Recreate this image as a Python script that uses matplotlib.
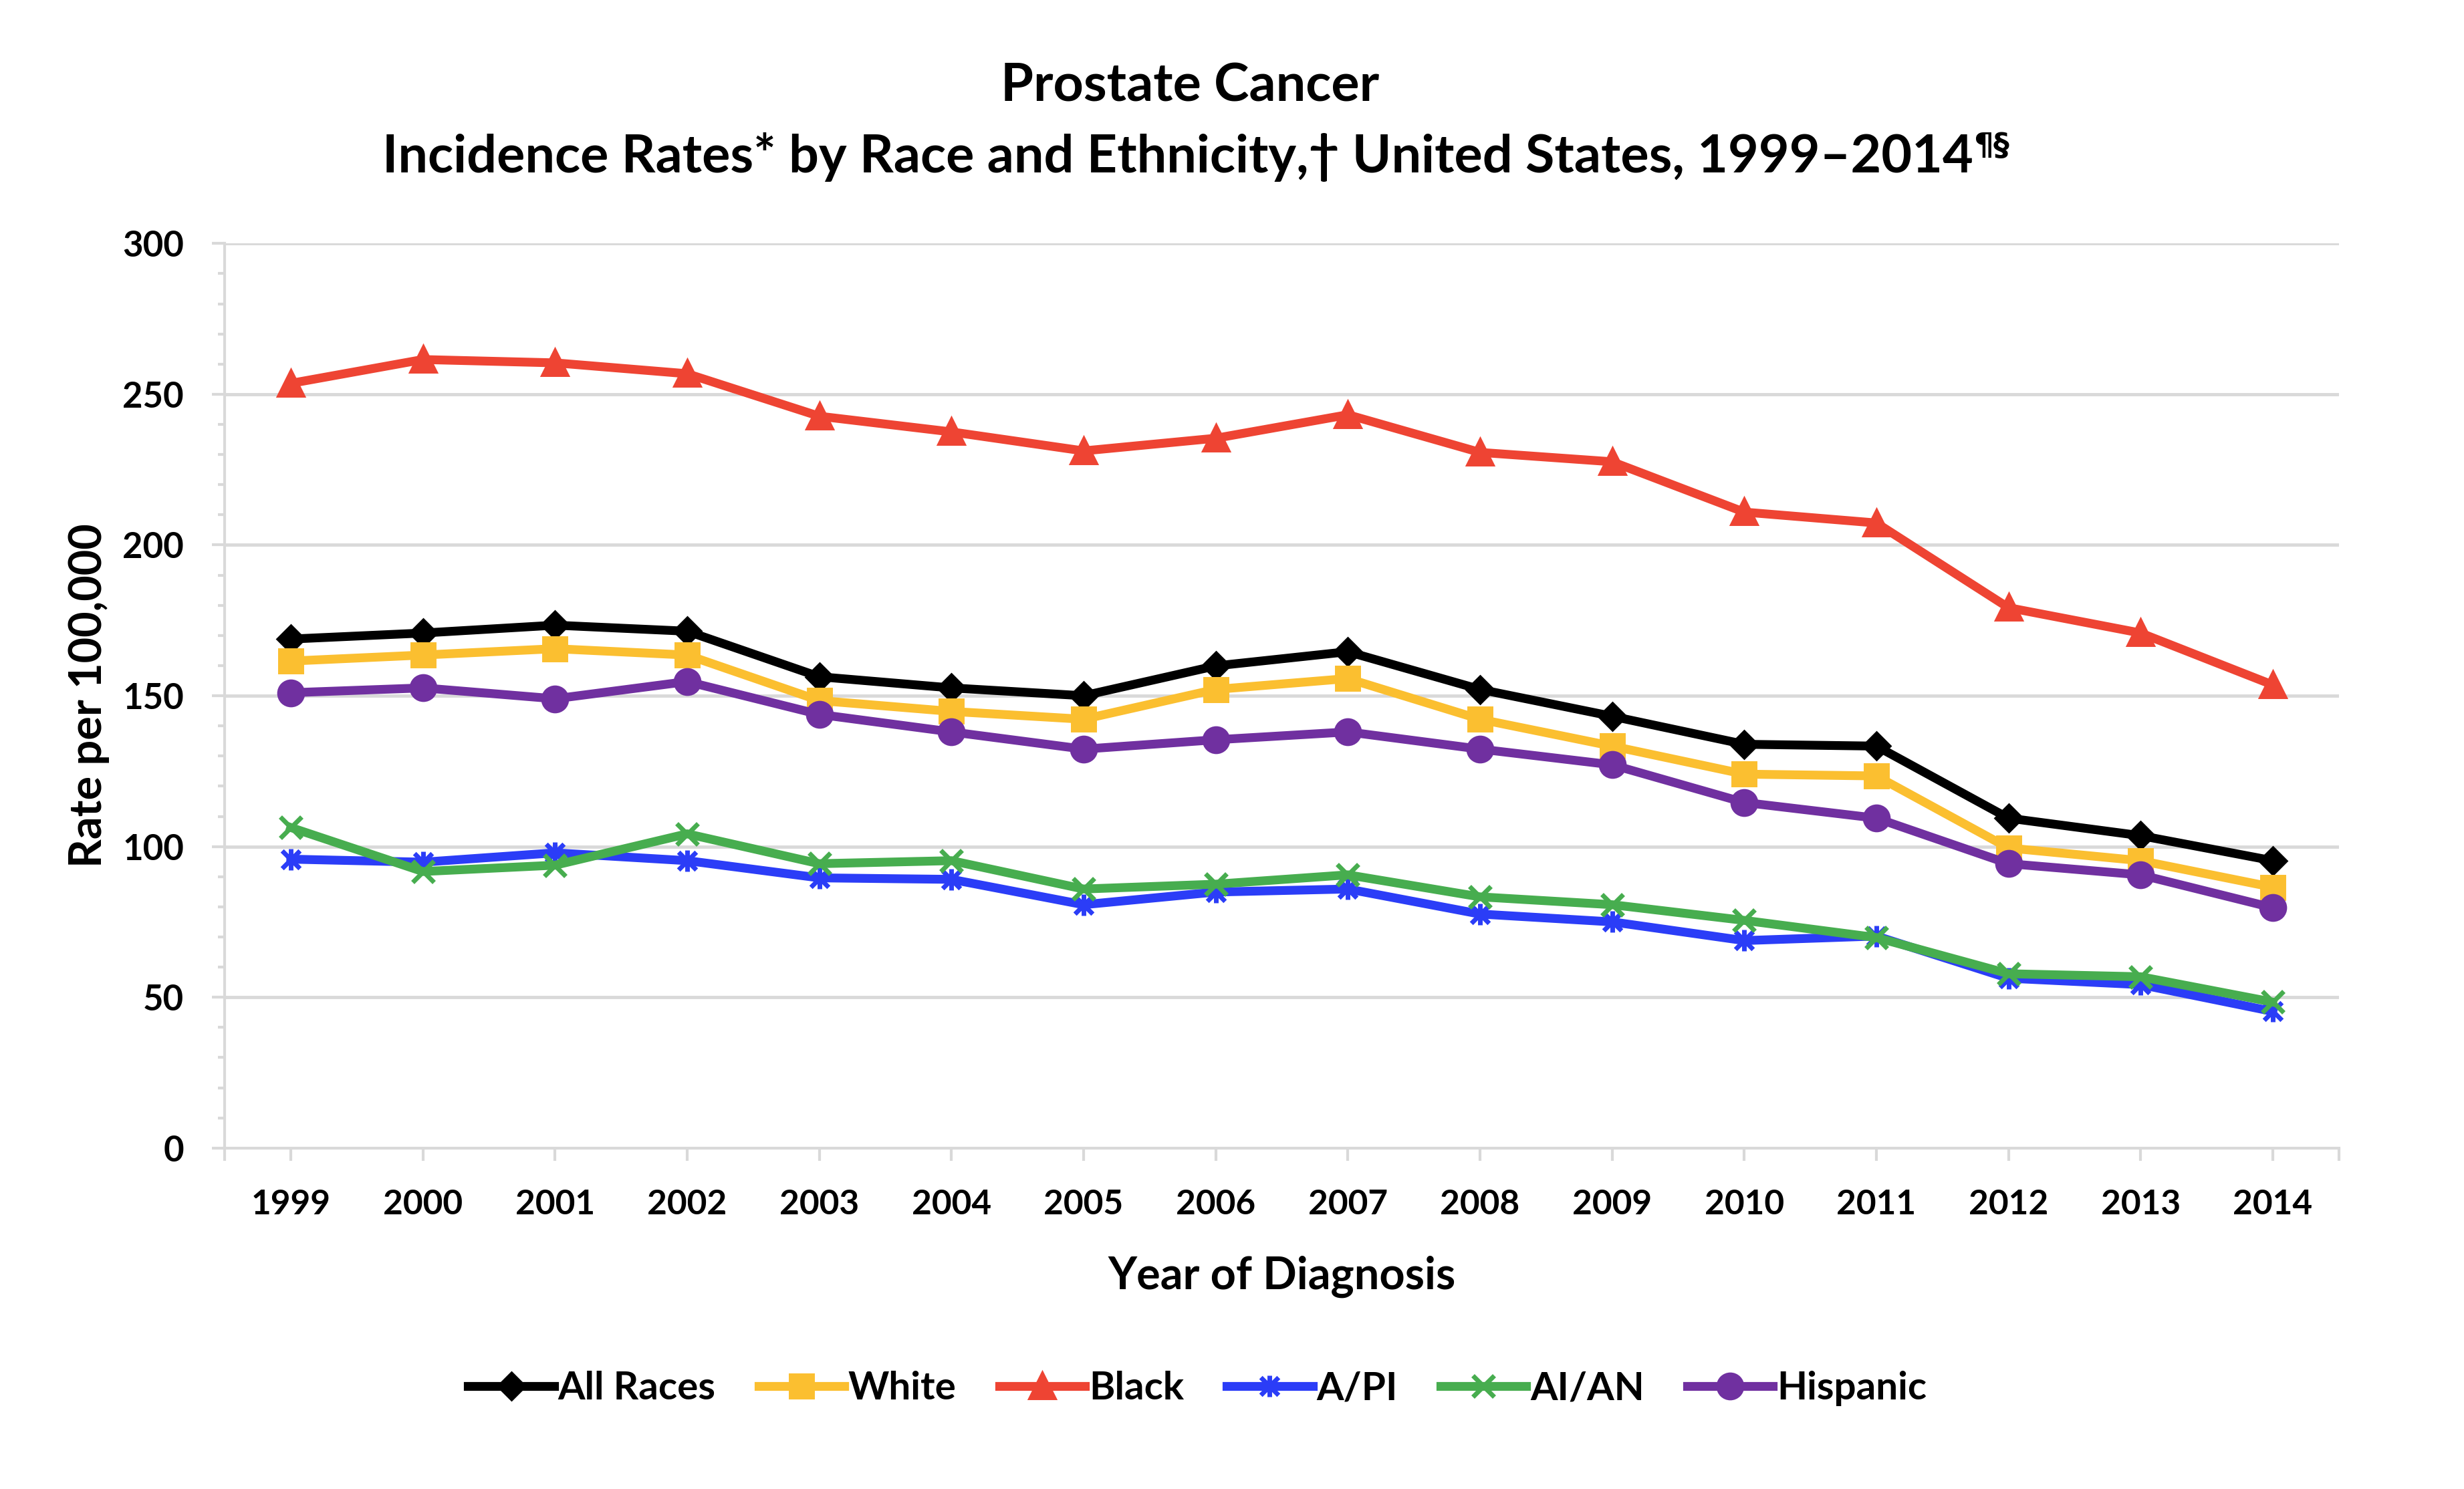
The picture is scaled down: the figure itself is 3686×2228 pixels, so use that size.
import matplotlib
matplotlib.use("Agg")
import matplotlib.pyplot as plt
import matplotlib.path as mpath
import numpy as np

plt.rcParams["font.family"] = ["Lato", "DejaVu Sans"]
plt.rcParams["font.weight"] = "bold"

# data
years = ["1999", "2000", "2001", "2002", "2003", "2004", "2005", "2006",
         "2007", "2008", "2009", "2010", "2011", "2012", "2013", "2014"]
all_races = [168.8, 170.8, 173.4, 171.4, 156.3, 152.6, 150.0, 159.9,
             164.6, 152.1, 143.2, 133.9, 133.3, 109.4, 103.6, 95.3]
white = [161.5, 163.5, 165.6, 163.5, 148.4, 144.8, 142.2, 152.1,
         155.7, 142.2, 133.3, 124.0, 123.4, 99.5, 95.3, 86.5]
black = [253.6, 261.5, 260.4, 256.8, 242.7, 237.5, 231.2, 235.4,
         243.2, 230.7, 227.6, 210.9, 207.3, 179.2, 170.8, 153.6]
api = [95.8, 94.8, 97.9, 95.3, 89.6, 89.1, 80.7, 84.9,
       85.9, 77.6, 75.0, 68.8, 70.3, 56.3, 54.2, 45.3]
aian = [106.3, 91.7, 93.8, 104.2, 94.3, 95.3, 85.9, 87.5,
        90.6, 83.3, 80.7, 75.5, 69.8, 57.8, 56.8, 48.4]
hispanic = [151.0, 152.6, 149.0, 154.7, 143.8, 138.0, 132.3, 135.4,
            138.0, 132.3, 127.1, 114.6, 109.4, 94.3, 90.6, 79.7]

# Excel-style "star" marker: an x with a vertical bar through it
M, L = mpath.Path.MOVETO, mpath.Path.LINETO
star_marker = mpath.Path([(-1, -1), (1, 1), (-1, 1), (1, -1), (0, -1.2), (0, 1.2)],
                         [M, L, M, L, M, L])

series = [
    ("All Races", all_races, "#000000", "D", 18),
    ("White", white, "#FBBF30", "s", 23),
    ("Black", black, "#EE4433", "^", 25),
    ("A/PI", api, "#2B3DF7", star_marker, 23),
    ("AI/AN", aian, "#47AD4F", "x", 23),
    ("Hispanic", hispanic, "#7030A0", "o", 25),
]

fig = plt.figure(figsize=(36.86, 22.28), dpi=100)
ax = fig.add_axes([0.0912, 0.229, 0.858, 0.6075])

x = np.arange(len(years))
grid_c = "#D9D9D9"

for name, vals, col, mk, ms in series:
    ax.plot(x, vals, color=col, lw=9.5, marker=mk, ms=ms,
            mfc=col, mec=col, mew=5, label=name, zorder=3)

ax.set_xlim(-0.5, len(years) - 0.5)
ax.set_ylim(0, 300)
ax.set_yticks(np.arange(0, 301, 50))
ax.set_yticks(np.arange(0, 301, 10), minor=True)
ax.set_xticks(x)
ax.set_xticks([-0.5, len(years) - 0.5], minor=True)
ax.set_xticklabels(years)
ax.grid(axis="y", which="major", color=grid_c, lw=3.5, zorder=0)

for s in ["top", "right"]:
    ax.spines[s].set_visible(False)
for s in ["left", "bottom"]:
    ax.spines[s].set_color(grid_c)
    ax.spines[s].set_linewidth(3)

ax.tick_params(axis="both", which="both", color=grid_c, width=3, direction="out")
ax.tick_params(axis="y", which="major", length=14, labelsize=38, pad=30)
ax.tick_params(axis="y", which="minor", length=7)
ax.tick_params(axis="x", which="both", length=14, labelsize=37, pad=30)

ax.set_xlabel("Year of Diagnosis", fontsize=48, fontweight="bold", labelpad=38)
ax.set_ylabel("Rate per 100,000", fontsize=48, fontweight="bold", labelpad=14)

fig.text(0.483, 0.942, "Prostate Cancer", ha="center", va="center",
         fontsize=57, fontweight="bold")
t2 = fig.text(0.478, 0.8945,
              "Incidence Rates* by Race and Ethnicity,\u2020 United States, 1999\u20132014",
              ha="center", va="center", fontsize=57, fontweight="bold")
fig.canvas.draw()
ax.annotate("\u00b6\u00a7", xy=(1.0, 1.02), xycoords=t2, ha="left", va="top",
            fontsize=34, fontweight="bold",
            family=["DejaVu Sans"])

leg = fig.legend(loc="center", bbox_to_anchor=(0.486, 0.0675), ncol=6,
                 frameon=False, fontsize=42, handlelength=2.2,
                 handletextpad=0.1, columnspacing=1.1)

fig.savefig("out.png", dpi=100, facecolor="white")
